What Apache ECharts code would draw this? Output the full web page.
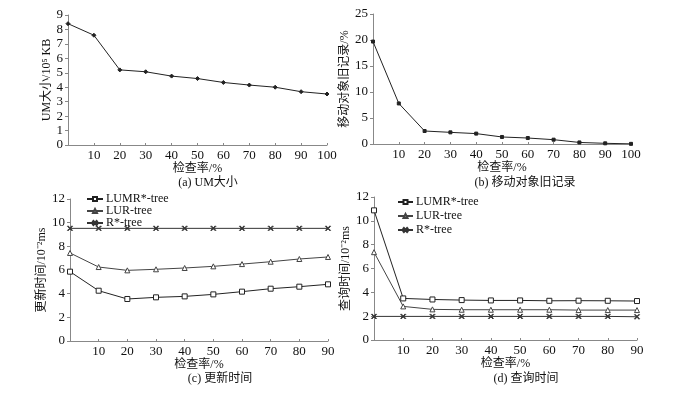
<!DOCTYPE html>
<html><head><meta charset="utf-8">
<script src="https://cdn.jsdelivr.net/npm/echarts@6/dist/echarts.min.js"></script>
<style>html,body{margin:0;padding:0;background:#fff}#c{width:688px;height:393px}</style>
</head><body><div id="c"></div>
<script>
const xAB = [0,10,20,30,40,50,60,70,80,90,100];
const umSize = [8.4,7.6,5.2,5.07,4.77,4.6,4.33,4.15,4.0,3.69,3.53];
const oldRecords = [19.7,7.8,2.5,2.24,2.0,1.35,1.15,0.83,0.3,0.13,0.03];
const xCD = [0,10,20,30,40,50,60,70,80,90];
const updLUMR = [5.86,4.25,3.55,3.69,3.77,3.94,4.17,4.42,4.59,4.79];
const updLUR = [7.44,6.25,5.97,6.06,6.17,6.31,6.5,6.7,6.93,7.1];
const updRstar = [9.52,9.52,9.52,9.52,9.52,9.52,9.52,9.52,9.52,9.52];
const qLUMR = [10.88,3.49,3.4,3.35,3.32,3.32,3.29,3.3,3.29,3.27];
const qLUR = [7.37,2.82,2.57,2.54,2.54,2.54,2.54,2.51,2.51,2.51];
const qRstar = [1.98,1.98,1.98,1.98,1.98,1.98,1.98,1.98,1.98,1.95];
const seriesNames = ['LUMR*-tree','LUR-tree','R*-tree'];
const xName = '检查率/%';
const yNames = ['UM大小/10⁵ KB','移动对象旧记录/%','更新时间/10⁻²ms','查询时间/10⁻²ms'];
const captions = ['(a) UM大小','(b) 移动对象旧记录','(c) 更新时间','(d) 查询时间'];

const FONT = "'Liberation Serif','Noto Sans CJK SC',serif";
const pair = (xs, ys) => xs.map((x,i)=>[x, ys[i]]);
const X_SYM = 'path://M0,1L1,0L5,4L9,0L10,1L6,5L10,9L9,10L5,6L1,10L0,9L4,5Z';

const grids = [
  {left:68, top:15, width:259, height:130},
  {left:373, top:14, width:258, height:130},
  {left:70, top:199, width:258, height:142},
  {left:374, top:197, width:263, height:143}
];
const axisCommon = {
  axisLine:{lineStyle:{color:'#888', width:1}},
  splitLine:{show:false},
  axisLabel:{color:'#111', fontFamily:FONT, fontSize:13},
  nameTextStyle:{color:'#111', fontFamily:FONT, fontSize:12}
};
function xAx(i, max){
  return Object.assign({}, axisCommon, {
    type:'value', gridIndex:i, min:0, max:max, interval:10,
    name:xName, nameLocation:'middle', nameGap:16,
    axisTick:{show:true, inside:true, length:2, lineStyle:{color:'#888'}},
    axisLabel:Object.assign({}, axisCommon.axisLabel, {margin:4, formatter:v=> v===0?'':String(v)})
  });
}
function yAx(i, max, interval, gap){
  return Object.assign({}, axisCommon, {
    type:'value', gridIndex:i, min:0, max:max, interval:interval,
    name:yNames[i], nameLocation:'middle', nameGap:gap, nameRotate:90,
    axisLine:{show:true, lineStyle:{color:'#888', width:1}},
    axisTick:{show:true, length:3, lineStyle:{color:'#888'}},
    axisLabel:Object.assign({}, axisCommon.axisLabel, {margin:5})
  });
}
const lineS = (name, xi, data, color, symbol, size, filled) => ({
  type:'line', name:name, xAxisIndex:xi, yAxisIndex:xi, data:data,
  symbol:symbol, symbolSize:size, showSymbol:true,
  lineStyle:{color:color, width:1},
  itemStyle:{color: filled ? color : '#fff', borderColor:color, borderWidth:1},
  animation:false
});
const legendText = {fontFamily:FONT, fontSize:12, color:'#111', padding:[0,0,0,-2]};

const option = {
  animation:false,
  textStyle:{fontFamily:FONT},
  grid:grids,
  xAxis:[xAx(0,100), xAx(1,100), xAx(2,90), xAx(3,90)],
  yAxis:[yAx(0,9,1,15), yAx(1,25,5,20), yAx(2,12,2,20), yAx(3,12,2,20)],
  legend:[
    {left:86, top:193, orient:'vertical', itemGap:0, itemWidth:16, itemHeight:5, padding:0,
     data:seriesNames, textStyle:legendText},
    {left:397, top:196, orient:'vertical', itemGap:2, itemWidth:15, itemHeight:5, padding:0,
     data:seriesNames, textStyle:legendText}
  ],
  series:[
    lineS('UM', 0, pair(xAB, umSize), '#222', 'diamond', 4, true),
    lineS('old', 1, pair(xAB, oldRecords), '#222', 'rect', 3, true),
    lineS(seriesNames[0], 2, pair(xCD, updLUMR), '#222', 'rect', 5, false),
    lineS(seriesNames[1], 2, pair(xCD, updLUR), '#444', 'triangle', 5, false),
    lineS(seriesNames[2], 2, pair(xCD, updRstar), '#333', X_SYM, 5, true),
    lineS(seriesNames[0], 3, pair(xCD, qLUMR), '#222', 'rect', 5, false),
    lineS(seriesNames[1], 3, pair(xCD, qLUR), '#444', 'triangle', 5, false),
    lineS(seriesNames[2], 3, pair(xCD, qRstar), '#333', X_SYM, 5, true)
  ],
  graphic:[
    {type:'text', x:208, y:183, style:{text:captions[0], fontFamily:FONT, fontSize:12, fill:'#111', textAlign:'center', textVerticalAlign:'middle'}},
    {type:'text', x:525, y:183, style:{text:captions[1], fontFamily:FONT, fontSize:12, fill:'#111', textAlign:'center', textVerticalAlign:'middle'}},
    {type:'text', x:220, y:379, style:{text:captions[2], fontFamily:FONT, fontSize:12, fill:'#111', textAlign:'center', textVerticalAlign:'middle'}},
    {type:'text', x:526, y:379, style:{text:captions[3], fontFamily:FONT, fontSize:12, fill:'#111', textAlign:'center', textVerticalAlign:'middle'}}
  ]
};
const chart = echarts.init(document.getElementById('c'), null, {renderer:'canvas'});
chart.setOption(option);
</script></body></html>
